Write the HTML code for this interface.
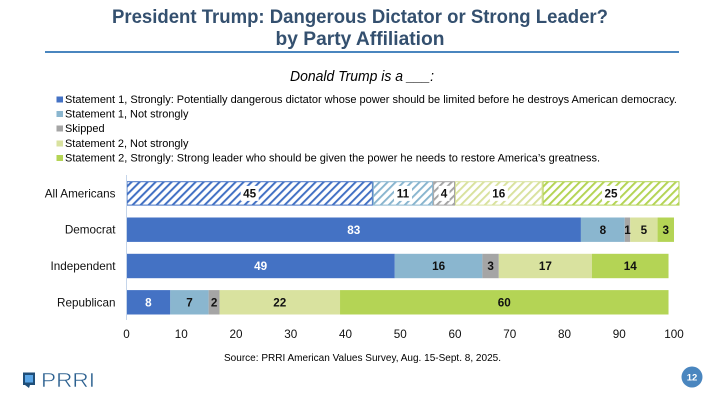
<!DOCTYPE html>
<html lang="en">
<head>
<meta charset="utf-8">
<title>President Trump: Dangerous Dictator or Strong Leader?</title>
<style>
html,body{margin:0;padding:0;background:#fff;width:720px;height:405px;overflow:hidden}
svg{display:block;font-family:"Liberation Sans",sans-serif}
</style>
</head>
<body>
<svg id="chart" width="720" height="405" viewBox="0 0 720 405" xmlns="http://www.w3.org/2000/svg">
<defs id="defs"></defs>
<text x="360" y="23" text-anchor="middle" font-size="19.5" font-weight="700" fill="#34506f" textLength="496" lengthAdjust="spacingAndGlyphs">President Trump: Dangerous Dictator or Strong Leader?</text>
<text x="360" y="45" text-anchor="middle" font-size="19.5" font-weight="700" fill="#34506f" textLength="169" lengthAdjust="spacingAndGlyphs">by Party Affiliation</text>
<rect x="45" y="51" width="634" height="2" fill="#4a86bf"/>
<text x="362" y="81" text-anchor="middle" font-size="14.5" font-style="italic" fill="#000" textLength="144" lengthAdjust="spacingAndGlyphs">Donald Trump is a ___:</text>
<g id="legend"></g>
<g id="bars"></g>
<g id="axis"></g>
<text x="362.5" y="361" text-anchor="middle" font-size="10.3" fill="#000" textLength="277" lengthAdjust="spacingAndGlyphs">Source: PRRI American Values Survey, Aug. 15-Sept. 8, 2025.</text>
<g>
<path d="M23 372.500 H35 V385 H30 L29 388 L25 385 H23 Z" fill="#1f4e79"/>
<rect x="25" y="375" width="8" height="7.500" fill="#5aa5e6"/>
<text x="41" y="387" font-size="20" fill="#2a5f8f" stroke="#fff" stroke-width="0.5" textLength="54" lengthAdjust="spacingAndGlyphs">PRRI</text>
</g>
<g>
<circle cx="692" cy="377" r="10.500" fill="#4a86bf"/>
<text x="692" y="380.500" text-anchor="middle" font-size="9.500" font-weight="700" fill="#fff">12</text>
</g>
</svg>
<script>
var categories = ['All Americans', 'Democrat', 'Independent', 'Republican'];
var seriesNames = [
  'Statement 1, Strongly: Potentially dangerous dictator whose power should be limited before he destroys American democracy.',
  'Statement 1, Not strongly',
  'Skipped',
  'Statement 2, Not strongly',
  'Statement 2, Strongly: Strong leader who should be given the power he needs to restore America\u2019s greatness.'
];
var strongly1 = [45, 83, 49, 8];
var notStrongly1 = [11, 8, 16, 7];
var skipped = [4, 1, 3, 2];
var notStrongly2 = [16, 5, 17, 22];
var strongly2 = [25, 3, 14, 60];
var seriesValues = [strongly1, notStrongly1, skipped, notStrongly2, strongly2];
var tickLabels = [0, 10, 20, 30, 40, 50, 60, 70, 80, 90, 100];
var hatchedCategories = ['All Americans'];
var seriesColors = ['#4472c4', '#8ab6cf', '#a5a5a5', '#d9e29f', '#b4d455'];

var NS = 'http://www.w3.org/2000/svg';
function xScale(v) { return 126.5 + v * 5.475; }
function yBand(i) { return 181.2 + i * 36.3; }
var barH = 24.4;

function make(tag, attrs, parent, txt) {
  var el = document.createElementNS(NS, tag);
  for (var k in attrs) { el.setAttribute(k, attrs[k]); }
  if (txt !== undefined) { el.textContent = txt; }
  parent.appendChild(el);
  return el;
}

var defs = document.getElementById('defs');
seriesColors.forEach(function (c, s) {
  var p = make('pattern', { id: 'hatch' + s, width: 5.66, height: 6, patternUnits: 'userSpaceOnUse', patternTransform: 'rotate(45)' }, defs);
  make('rect', { width: 5.66, height: 6, fill: '#fff' }, p);
  make('rect', { width: 2, height: 6, fill: c }, p);
});

var legend = document.getElementById('legend');
var legendBase = [103, 117.5, 132, 147, 161.5];
var legendWidths = [612, 0, 0, 0, 535];
seriesNames.forEach(function (name, s) {
  var sw = make('rect', { x: 56.5, y: legendBase[s] - 6.5, width: 6.5, height: 6, fill: seriesColors[s] }, legend);
  
  
  var attrs = { x: 65, y: legendBase[s], 'font-size': 10.95, fill: '#000' };
  if (legendWidths[s]) { attrs.textLength = legendWidths[s]; attrs.lengthAdjust = 'spacingAndGlyphs'; }
  var t = make('text', attrs, legend, name);
  
  
});

var bars = document.getElementById('bars');
categories.forEach(function (cat, i) {
  var y = yBand(i);
  var lab = make('text', { x: 115.5, y: y + barH / 2 + 4, 'text-anchor': 'end', 'font-size': 11.7, fill: '#111' }, bars, cat);
  
  
  var hatched = hatchedCategories.indexOf(cat) >= 0;
  var cum = 0;
  seriesValues.forEach(function (vals, s) {
    var v = vals[i];
    var x0 = xScale(cum), x1 = xScale(cum + v);
    var attrs = hatched
      ? { x: x0 + 0.5, y: y + 0.5, width: x1 - x0 - 1, height: barH - 1, fill: 'url(#hatch' + s + ')', stroke: seriesColors[s], 'stroke-width': 1 }
      : { x: x0, y: y, width: x1 - x0, height: barH, fill: seriesColors[s] };
    var r = make('rect', attrs, bars);
    
    
    cum += v;
  });
  cum = 0;
  seriesValues.forEach(function (vals, s) {
    var v = vals[i];
    var cx = xScale(cum + v / 2);
    if (hatched) {
      var w = String(v).length > 1 ? 18 : 11;
      var bg = make('rect', { x: cx - w / 2, y: y + 4.7, width: w, height: barH - 9.4, fill: '#fff' }, bars);
      
      
    }
    var t = make('text', { x: cx, y: y + barH / 2 + 4.2, 'text-anchor': 'middle', 'font-size': 11.7, 'font-weight': 700, fill: (s === 0 && !hatched) ? '#fff' : '#111' }, bars, String(v));
    
    
    cum += v;
  });
});

var axis = document.getElementById('axis');
var axisLine = make('line', { x1: 126.5, x2: 126.5, y1: 175, y2: 320, stroke: '#c5d5ea', 'stroke-width': 1 }, axis);


tickLabels.forEach(function (t) {
  var el = make('text', { x: xScale(t), y: 338, 'text-anchor': 'middle', 'font-size': 11.7, fill: '#111' }, axis, String(t));
  
  
});
</script>
</body>
</html>
